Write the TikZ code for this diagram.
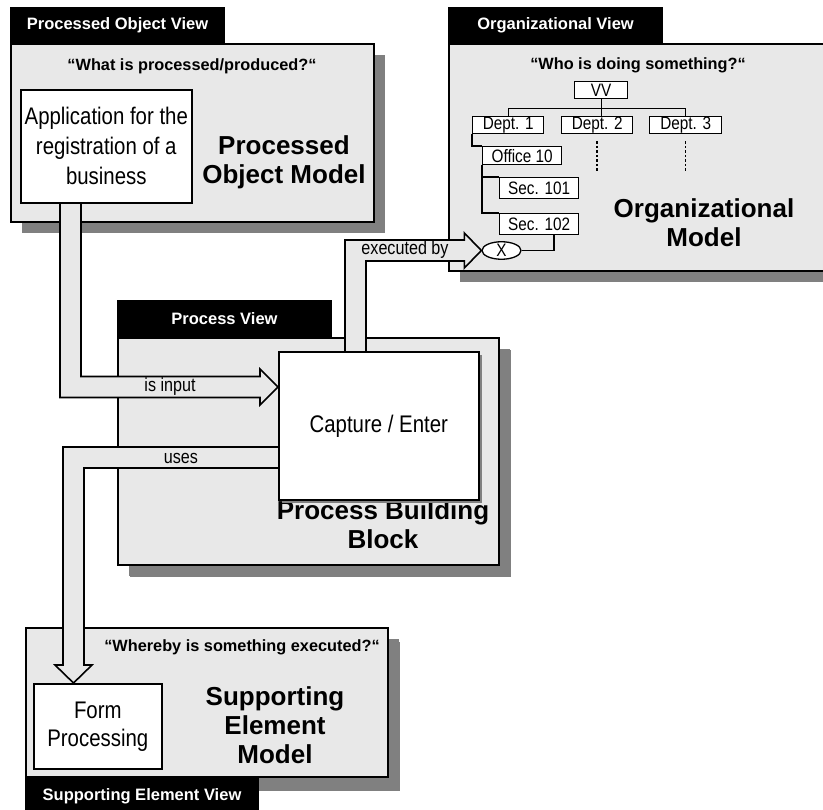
\documentclass[tikz,border=0pt]{standalone}
\usepackage{fontspec}
\setmainfont{Liberation Sans}
\newfontfamily\narrowfont[FakeStretch=0.85]{Liberation Sans}
\usetikzlibrary{shapes.geometric,shadows,calc}

\definecolor{panelgray}{HTML}{E8E8E8}
\definecolor{shadowgray}{HTML}{808080}

\pgfdeclarelayer{panels}
\pgfdeclarelayer{bands}
\pgfsetlayers{panels,bands,main}

\tikzset{
  view/.style={draw, fill=panelgray, line width=1.6pt, inner sep=0pt, anchor=north west,
    general shadow={fill=shadowgray, shadow xshift=11pt, shadow yshift=-11pt}},
  viewtab/.style={draw, fill=black, text=white, line width=1pt, inner sep=0pt,
    anchor=north west, minimum height=36pt,
    font=\bfseries\fontsize{16.5}{18}\selectfont},
  question/.style={font=\bfseries\fontsize{16.3}{18}\selectfont},
  modeltitle/.style={font=\bfseries\fontsize{26}{29}\selectfont, align=center, anchor=base},
  item/.style={draw, fill=white, line width=1.6pt, inner sep=0pt, anchor=north west,
    align=center, font=\narrowfont\fontsize{24}{30}\selectfont},
  orgunit/.style={draw, fill=white, line width=1.3pt, inner sep=0pt, anchor=north west,
    font=\narrowfont\fontsize{18}{18}\selectfont},
  orgline/.style={line width=1.3pt},
  band/.style={draw, fill=panelgray, line width=1.6pt, line join=miter},
  flowlabel/.style={font=\narrowfont\fontsize{19}{20}\selectfont, anchor=base},
}

\begin{document}
\begin{tikzpicture}[x=1pt, y=-1pt]
\useasboundingbox (0,0) rectangle (823,810);

% ---- view panels with their title tabs ----
\begin{pgfonlayer}{panels}
\node[view, minimum width=363pt, minimum height=178pt] (pov) at (10,43) {};
\node[viewtab, minimum width=214pt] (povtab) at (10,7) {Processed Object View};

\node[view, minimum width=400pt, minimum height=227pt] (orgv) at (448,43) {};
\node[viewtab, minimum width=214pt] (orgtab) at (448,7) {Organizational View};

\node[view, minimum width=381pt, minimum height=227pt,
  general shadow={fill=shadowgray, shadow xshift=12pt, shadow yshift=-12pt}] (prv) at (117,337) {};
\node[viewtab, minimum width=214pt] (prvtab) at (117,300) {Process View};

\node[view, minimum width=362pt, minimum height=149pt,
  general shadow={fill=shadowgray, shadow xshift=12pt, shadow yshift=-14pt}] (sev) at (25,627) {};
\node[viewtab, minimum width=233pt, minimum height=40pt] (sevtab) at (25,776)
  {\raisebox{2pt}{Supporting Element View}};
\end{pgfonlayer}

% ---- questions and model titles ----
\node[question] (povq) at (192,66) {“What is processed/produced?“};
\node[question] (orgq) at (638,65) {“Who is doing something?“};
\node[question] (sevq) at (242,647) {“Whereby is something executed?“};

\node[modeltitle] (povtitle) at (284,184) {Processed\\Object Model};
\node[modeltitle] (orgtitle) at (704,247) {Organizational\\Model};
\node[modeltitle] (prvtitle) at (383,549) {Process Building\\Block};
\node[modeltitle] (sevtitle) at (275,763) {Supporting\\Element\\Model};

% ---- element boxes ----
\node[item, minimum width=171pt, minimum height=113pt] (app) at (20,89)
  {Application for the\\registration of a\\business};
\node[item, minimum width=200pt, minimum height=148pt,
  general shadow={fill=shadowgray, shadow xshift=3pt, shadow yshift=-3pt}] (cap) at (278,351)
  {Capture / Enter};
\node[item, minimum width=128pt, minimum height=85pt,
  font=\narrowfont\fontsize{24}{28}\selectfont] (form) at (33,683) {Form\\Processing};

% ---- organisational chart ----
\node[orgunit, minimum width=53pt, minimum height=17pt] (vv) at (574,81) {VV};
\node[orgunit, minimum width=71pt, minimum height=17pt] (d1) at (472,116) {Dept. 1};
\node[orgunit, minimum width=71pt, minimum height=17pt] (d2) at (561,116) {Dept. 2};
\node[orgunit, minimum width=72pt, minimum height=17pt] (d3) at (649,116) {Dept. 3};
\node[orgunit, minimum width=79pt, minimum height=18pt] (off) at (482,146) {Office 10};
\node[orgunit, minimum width=79pt, minimum height=21pt] (s101) at (499,177) {Sec. 101};
\node[orgunit, minimum width=79pt, minimum height=21pt] (s102) at (499,213) {Sec. 102};
\node[ellipse, draw, fill=white, line width=1.3pt, inner sep=0pt,
  minimum width=39pt, minimum height=15pt,
  font=\narrowfont\fontsize{18}{18}\selectfont] (xmark) at (501.5,250.5) {X};

\draw[orgline] (vv.south) -- (vv.south |- d2.north);
\draw[orgline] (d1.north) |- ($(vv.south)+(0,9)$) -| (d3.north);
\draw[orgline] (d1.south west) |- (off.north west);
\draw[orgline] (off.south west) |- (s101.north west);
\draw[orgline] (off.south west) |- (s102.north west);
\draw[orgline] (xmark.east) -| ($(s102.south west)+(55,0)$);
\draw[line width=1.6pt, dash pattern=on 2.5pt off 2pt] ($(d2.south)+(0,7)$) -- ++(0,30);
\draw[line width=1.6pt, dash pattern=on 2.5pt off 2pt] ($(d3.south)+(0,7)$) -- ++(0,30);

% ---- wide flow arrows ----
\coordinate (inTip) at ($(cap.north west)+(0,36)$);
\coordinate (exTip) at (xmark.west);
\coordinate (usTip) at ($(form.north west)+(40.5,0)$);

\begin{pgfonlayer}{bands}
% is input: from the processed object into the building block
\path[band] ($(app.south west)+(61,0)$) |- ($(inTip)+(-18,-10.5)$)
  -- ($(inTip)+(-18,-18)$) -- (inTip) -- ($(inTip)+(-18,18)$)
  -- ($(inTip)+(-18,10.5)$) -| ($(app.south west)+(40,0)$);
% executed by: from the building block to the organisational unit
\path[band] ($(cap.north west)+(67,0)$) |- ($(exTip)+(-17,-10.5)$)
  -- ($(exTip)+(-17,-17.5)$) -- (exTip) -- ($(exTip)+(-17,17.5)$)
  -- ($(exTip)+(-17,10.5)$) -| ($(cap.north west)+(88,0)$);
% uses: from the building block to the supporting element
\path[band] ($(cap.north west)+(0,96)$) -| ($(usTip)+(-10.5,-18)$)
  -- ($(usTip)+(-18.5,-18)$) -- (usTip) -- ($(usTip)+(18.5,-18)$)
  -- ($(usTip)+(10.5,-18)$) |- ($(cap.north west)+(0,117)$);
\end{pgfonlayer}

\node[flowlabel] (inlabel) at (170,392) {is input};
\node[flowlabel] (exlabel) at (405,255) {executed by};
\node[flowlabel] (uslabel) at (181,464) {uses};
\end{tikzpicture}
\end{document}
